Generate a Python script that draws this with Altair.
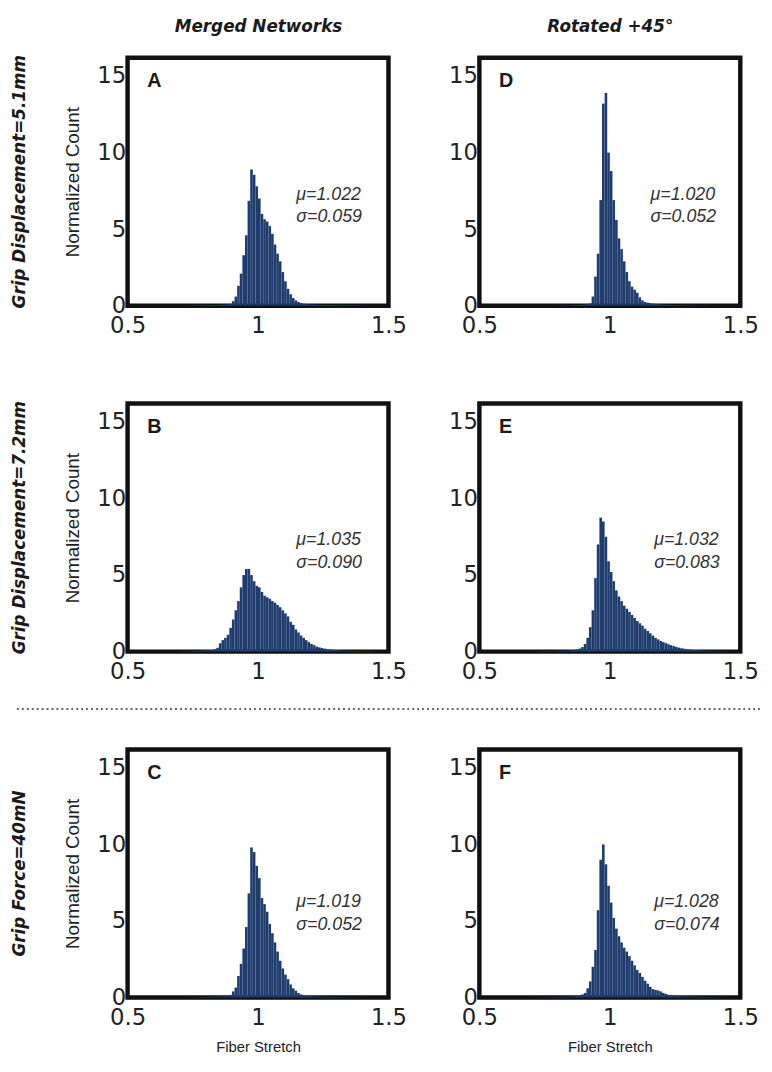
import altair as alt
import pandas as pd

# ---------------- data ----------------
BIN_START = 0.70
BIN_WIDTH = 0.01

panel_letters = ["A", "B", "C", "D", "E", "F"]
row_titles = ["Grip Displacement=5.1mm", "Grip Displacement=7.2mm", "Grip Force=40mN"]
col_titles = ["Merged Networks", "Rotated +45°"]
mu_values = ["1.022", "1.035", "1.019", "1.020", "1.032", "1.028"]
sigma_values = ["0.059", "0.090", "0.052", "0.052", "0.083", "0.074"]
x_ticks = [0.5, 1, 1.5]
y_ticks = [0, 5, 10, 15]

# normalized counts per 0.01 bin, bins starting at 0.70
counts_A = [0, 0, 0.01, 0.01, 0.02, 0.03, 0.03, 0.03, 0.04, 0.04,
            0.04, 0.05, 0.05, 0.05, 0.06, 0.06, 0.07, 0.08, 0.09, 0.12,
            0.3, 0.6, 1.3, 2.1, 3.3, 4.6, 6.85, 8.9, 8.55, 7.8,
            7.0, 6.0, 5.65, 5.5, 5.2, 4.7, 4.0, 3.4, 2.9, 2.2,
            1.6, 1.1, 0.75, 0.5, 0.35, 0.25, 0.18, 0.14, 0.11, 0.09,
            0.08, 0.07, 0.06, 0.06, 0.05, 0.05, 0.05, 0.05, 0.04, 0.04,
            0.04, 0.04, 0.04, 0.03, 0.03, 0.03, 0.03, 0.03, 0.03, 0.02,
            0.02, 0.02, 0.01, 0, 0]
counts_B = [0.02, 0.02, 0.03, 0.03, 0.04, 0.04, 0.05, 0.05, 0.06, 0.07,
            0.08, 0.09, 0.11, 0.15, 0.25, 0.55, 0.75, 0.9, 1.1, 1.55,
            2.1, 2.7, 3.3, 4.2, 5.0, 5.4, 5.4, 5.0, 4.6, 4.3,
            4.2, 3.9, 3.65, 3.55, 3.45, 3.3, 3.2, 3.05, 2.9, 2.7,
            2.5, 2.3, 1.95, 1.75, 1.45, 1.25, 1.05, 0.9, 0.75, 0.62,
            0.5, 0.42, 0.33, 0.28, 0.24, 0.2, 0.16, 0.14, 0.12, 0.1,
            0.09, 0.08, 0.07, 0.06, 0.06, 0.05, 0.05, 0.04, 0.04, 0.03,
            0.03, 0.03, 0.02, 0.02, 0.01]
counts_C = [0, 0, 0.01, 0.01, 0.01, 0.02, 0.02, 0.02, 0.03, 0.03,
            0.03, 0.04, 0.04, 0.05, 0.05, 0.06, 0.06, 0.07, 0.08, 0.17,
            0.4, 0.65, 1.4, 2.2, 3.2, 4.6, 6.8, 9.8, 9.5, 8.6,
            7.8, 6.5, 6.1, 5.6, 4.8, 4.2, 3.6, 3.0, 2.4, 1.9,
            1.5, 1.2, 0.85, 0.6, 0.45, 0.3, 0.2, 0.15, 0.12, 0.1,
            0.08, 0.07, 0.06, 0.06, 0.05, 0.05, 0.04, 0.04, 0.04, 0.03,
            0.03, 0.03, 0.03, 0.02, 0.02, 0.02, 0.02, 0.02, 0.01, 0.01,
            0.01, 0.01, 0, 0, 0]
counts_D = [0, 0, 0, 0, 0, 0, 0.01, 0.01, 0.01, 0.02,
            0.02, 0.02, 0.03, 0.03, 0.03, 0.04, 0.04, 0.05, 0.05, 0.06,
            0.08, 0.12, 0.15, 0.6, 1.9, 3.4, 6.9, 13.2, 13.9, 10.0,
            8.8, 6.9, 5.6, 4.4, 3.7, 2.9, 2.2, 1.6, 1.25, 1.05,
            0.85, 0.55, 0.35, 0.25, 0.2, 0.17, 0.14, 0.12, 0.1, 0.08,
            0.07, 0.06, 0.05, 0.05, 0.04, 0.04, 0.04, 0.03, 0.03, 0.03,
            0.03, 0.03, 0.02, 0.02, 0.02, 0.02, 0.02, 0.02, 0.01, 0.01,
            0.01, 0.01, 0, 0, 0]
counts_E = [0.01, 0.01, 0.01, 0.02, 0.02, 0.02, 0.03, 0.03, 0.03, 0.04,
            0.04, 0.05, 0.05, 0.06, 0.08, 0.1, 0.12, 0.15, 0.2, 0.3,
            0.5, 0.9, 1.6, 2.7, 4.8, 7.0, 8.75, 8.5, 7.5, 5.9,
            5.2, 4.6, 4.0, 3.6, 3.3, 3.0, 2.8, 2.6, 2.4, 2.2,
            2.0, 1.85, 1.7, 1.5, 1.35, 1.2, 1.05, 0.9, 0.8, 0.7,
            0.62, 0.55, 0.48, 0.42, 0.36, 0.3, 0.26, 0.22, 0.19, 0.16,
            0.14, 0.12, 0.1, 0.09, 0.08, 0.07, 0.06, 0.05, 0.05, 0.04,
            0.04, 0.03, 0.03, 0.02, 0.02]
counts_F = [0.01, 0.01, 0.01, 0.02, 0.02, 0.02, 0.03, 0.03, 0.03, 0.04,
            0.04, 0.05, 0.05, 0.06, 0.06, 0.07, 0.08, 0.1, 0.13, 0.2,
            0.3, 0.6, 1.05, 2.0, 3.1, 5.7, 9.0, 10.0, 8.7, 7.3,
            6.2, 5.2, 4.5, 4.0, 3.6, 3.25, 3.0, 2.7, 2.4, 2.1,
            1.8, 1.6, 1.35, 1.1, 0.9, 0.7, 0.55, 0.5, 0.46, 0.4,
            0.3, 0.24, 0.18, 0.15, 0.13, 0.11, 0.1, 0.09, 0.08, 0.07,
            0.06, 0.06, 0.05, 0.05, 0.04, 0.04, 0.03, 0.03, 0.03, 0.02,
            0.02, 0.02, 0.01, 0.01, 0.01]
all_counts = [counts_A, counts_B, counts_C, counts_D, counts_E, counts_F]

# annotation positions in data units
letter_x = 0.575
letter_y = 14.3
stat_x = [1.147, 1.147, 1.147, 1.156, 1.17, 1.17]
stat_y_top = [6.9, 6.95, 5.9, 6.9, 6.95, 5.9]
stat_y_bottom = [5.45, 5.45, 4.4, 5.45, 5.45, 4.4]

# ---------------- style ----------------
W, H = 264, 251
BAR_COLOR = "#1e3d6e"
TEXT_DARK = "#1a1a1a"
TICK_FONT = "DejaVu Sans"
TITLE_FONT = "DejaVu Sans"
PLAIN_FONT = "Liberation Sans"

xscale = alt.Scale(domain=[0.5, 1.5], nice=False, zero=False)
yscale = alt.Scale(domain=[0, 16.2], nice=False, zero=True)


def make_panel(idx):
    col, row = divmod(idx, 3)
    counts = all_counts[idx]
    hist = pd.DataFrame({
        "lo": [round(BIN_START + BIN_WIDTH * i, 2) for i in range(len(counts))],
        "count": counts,
    })
    hist["hi"] = (hist["lo"] + BIN_WIDTH).round(2)

    xaxis_kw = dict(values=x_ticks, format="~g", labelFont=TICK_FONT, labelFontSize=23,
                    labelColor="#222", labelPadding=9, ticks=False, tickSize=0,
                    domain=False, grid=False, labelFlush=False)
    if row == 2:
        xaxis = alt.Axis(title="Fiber Stretch", titleFont=PLAIN_FONT, titleFontSize=15,
                         titleFontWeight="normal", titleColor="#222", titlePadding=11, **xaxis_kw)
    else:
        xaxis = alt.Axis(title=None, **xaxis_kw)

    yaxis_kw = dict(values=y_ticks, labelFont=TICK_FONT, labelFontSize=23, labelColor="#222",
                    labelPadding=2, ticks=False, tickSize=0, domain=False, grid=False,
                    labelBaseline="middle")
    if col == 0:
        yaxis = alt.Axis(title="Normalized Count", titleFont=PLAIN_FONT, titleFontSize=19,
                         titleFontWeight="normal", titleColor="#222", titlePadding=14, **yaxis_kw)
    else:
        yaxis = alt.Axis(title=None, **yaxis_kw)

    bars = alt.Chart(hist).mark_bar(color=BAR_COLOR).encode(
        x=alt.X("lo:Q", scale=xscale, axis=xaxis),
        x2="hi:Q",
        y=alt.Y("count:Q", scale=yscale, axis=yaxis),
        y2=alt.datum(0),
    )

    letter_df = pd.DataFrame({"x": [letter_x], "y": [letter_y], "label": [panel_letters[idx]]})
    if row == 0:
        top_axis = alt.Axis(orient="top", title=col_titles[col], labels=False, ticks=False,
                            domain=False, grid=False, titleFont=TITLE_FONT, titleFontSize=17,
                            titleFontWeight="bold", titleFontStyle="italic", titleColor=TEXT_DARK,
                            titlePadding=23)
        lx = alt.X("x:Q", scale=xscale, axis=top_axis)
    else:
        lx = alt.X("x:Q", scale=xscale, axis=None)
    letters = alt.Chart(letter_df).mark_text(
        align="left", baseline="alphabetic", font=PLAIN_FONT, fontSize=20,
        fontWeight="bold", color=TEXT_DARK
    ).encode(x=lx, y=alt.Y("y:Q", scale=yscale, axis=None), text="label:N")

    stat_df = pd.DataFrame({
        "x": [stat_x[idx], stat_x[idx]],
        "y": [stat_y_top[idx], stat_y_bottom[idx]],
        "label": ["\u03bc=" + mu_values[idx], "\u03c3=" + sigma_values[idx]],
    })
    stats = alt.Chart(stat_df).mark_text(
        align="left", baseline="alphabetic", font=PLAIN_FONT, fontSize=18,
        fontStyle="italic", color="#333"
    ).encode(x=alt.X("x:Q", scale=xscale, axis=None),
             y=alt.Y("y:Q", scale=yscale, axis=None), text="label:N")

    layers = [bars, letters, stats]
    if idx == 5:
        sep = alt.Chart(pd.DataFrame({"k": [0]})).mark_rule(
            color="#333", strokeDash=[2, 3], strokeWidth=1.5
        ).encode(x=alt.value(-468), x2=alt.value(285), y=alt.value(-41))
        layers.append(sep)

    props = dict(width=W, height=H)
    if col == 0:
        props["title"] = alt.TitleParams(row_titles[row], orient="left", anchor="middle",
                                         frame="group", font=TITLE_FONT, fontSize=17,
                                         fontWeight="bold", fontStyle="italic",
                                         color=TEXT_DARK, offset=36)
    return alt.layer(*layers).resolve_axis(x="independent", y="independent").properties(**props)


panels = [make_panel(i) for i in range(6)]
order = [0, 3, 1, 4, 2, 5]
chart = alt.concat(*[panels[i] for i in order], columns=2,
                   spacing={"row": 99, "column": 92}, bounds="flush", align="all").properties(
    padding={"left": 0, "top": 0, "right": 0, "bottom": 0}
).configure(background="white").configure_view(stroke="#111", strokeWidth=4.5)

chart.save("out.html", embed_options={"renderer": "svg", "actions": False})
